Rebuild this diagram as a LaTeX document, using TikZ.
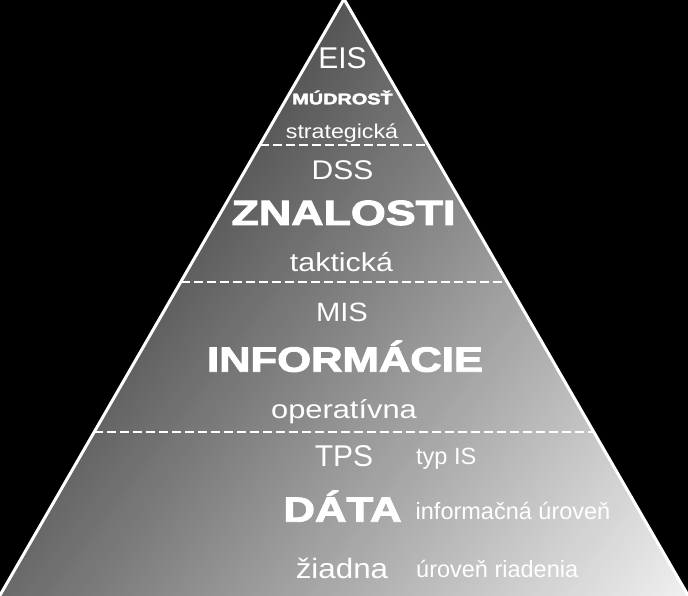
\documentclass[tikz,border=0pt]{standalone}
\usepackage{fontspec}
\setmainfont{Liberation Sans}
\newfontfamily\heavyfont[FakeBold=2.5]{Liberation Sans Bold}
\begin{document}
\begin{tikzpicture}[x=1pt,y=-1pt,
  txt/.style={text=white, inner sep=0pt, anchor=base},
  side/.style={text=white, inner sep=0pt, anchor=base west, font=\fontsize{23.5}{28}\selectfont},
  divider/.style={white, line width=1.8pt, dash pattern=on 9pt off 4pt},
  edgeline/.style={white, line width=3pt, line join=miter}]
\fill[black] (0,0) rectangle (688,596);
\useasboundingbox (0,0) rectangle (688,596);
\coordinate (A) at (344,-1);
\coordinate (BL) at (-1,597);
\coordinate (BR) at (689,597);
\begin{scope}
\clip (A) -- (BL) -- (BR) -- cycle;
\foreach \s in {264,268,...,916}{
  \pgfmathsetmacro\g{min(100,(18+0.245*(\s+2))/2.55)}
  \fill[white!\g!black] ({0.8*\s-600},{0.6*\s+800}) -- ({0.8*\s+600},{0.6*\s-800}) -- ({0.8*(\s+4.6)+600},{0.6*(\s+4.6)-800}) -- ({0.8*(\s+4.6)-600},{0.6*(\s+4.6)+800}) -- cycle;
}
\end{scope}
% dividers
\coordinate (d1l) at (259.8,145);
\coordinate (d1r) at (428.2,145);
\coordinate (d2l) at (180.7,282);
\coordinate (d2r) at (507.3,282);
\coordinate (d3l) at (94.2,432);
\coordinate (d3r) at (593.8,432);
\draw[divider] (d1l) -- (d1r);
\draw[divider] (d2l) -- (d2r);
\draw[divider] (d3l) -- (d3r);
\draw[edgeline] (BL) -- (A) -- (BR);
% texts
\node[txt, font=\fontsize{30}{36}\selectfont] (eis) at (342.5,68.3) {EIS};
\node[txt, font=\heavyfont\fontsize{15.4}{18}\selectfont] (mudrost) at (342.5,104.3) {\scalebox{1.29}[1]{MÚDROSŤ}};
\node[txt, font=\fontsize{20}{24}\selectfont] (strat) at (342,138.3) {\scalebox{1.16}[1]{strategická}};
\node[txt, font=\fontsize{27}{32}\selectfont] (dss) at (342.5,179.3) {\scalebox{1.11}[1]{DSS}};
\node[txt, font=\heavyfont\fontsize{35}{42}\selectfont] (znalosti) at (343.5,225) {\scalebox{1.28}[1]{ZNALOSTI}};
\node[txt, font=\fontsize{26}{31}\selectfont] (takt) at (341.5,271.7) {\scalebox{1.17}[1]{taktická}};
\node[txt, font=\fontsize{26.5}{32}\selectfont] (mis) at (342,321.7) {\scalebox{1.1}[1]{MIS}};
\node[txt, font=\heavyfont\fontsize{35}{42}\selectfont] (info) at (345,371.7) {\scalebox{1.245}[1]{INFORMÁCIE}};
\node[txt, font=\fontsize{25.7}{31}\selectfont] (oper) at (344,418.3) {\scalebox{1.2}[1]{operatívna}};
\node[txt, font=\fontsize{30}{36}\selectfont] (tps) at (344,466.7) {TPS};
\node[txt, font=\heavyfont\fontsize{35}{42}\selectfont] (data) at (342.5,521.7) {\scalebox{1.25}[1]{DÁTA}};
\node[txt, font=\fontsize{28}{34}\selectfont] (ziadna) at (342,578.3) {\scalebox{1.12}[1]{žiadna}};
\node[side] (typ) at (416,464) {typ IS};
\node[side] (inf) at (415.5,519.5) {informačná úroveň};
\node[side] (ur) at (416,577.3) {úroveň riadenia};
\end{tikzpicture}
\end{document}
